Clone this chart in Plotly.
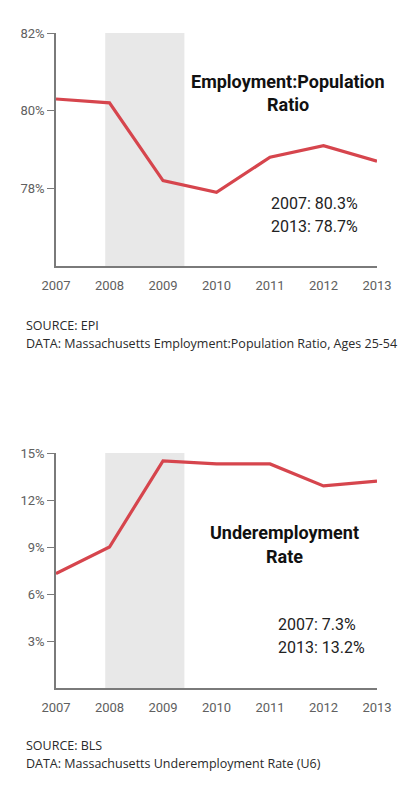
import plotly.graph_objects as go

# data
years = [2007, 2008, 2009, 2010, 2011, 2012, 2013]
emp_pop_ratio = [80.3, 80.2, 78.2, 77.9, 78.8, 79.1, 78.7]
underemployment = [7.3, 9.0, 14.5, 14.3, 14.3, 12.9, 13.2]
emp_ticks = [78, 80, 82]
emp_labels = ['78%', '80%', '82%']
under_ticks = [3, 6, 9, 12, 15]
under_labels = ['3%', '6%', '9%', '12%', '15%']
recession = [2007.92, 2009.4]

red = '#d6454d'
axis_grey = '#7a7a7a'
label_grey = '#606060'
font = 'Roboto'
body_font = 'Open Sans'

# page body has an 8px margin, so the figure is sized to fit inside it
W, H, OFF = 408, 780, 8

def px(x):
    return (x - OFF) / W

def py(y):
    return 1 - (y - OFF) / H

fig = go.Figure()
fig.add_trace(go.Scatter(x=years, y=emp_pop_ratio, mode='lines',
                         line=dict(color=red, width=3.2), xaxis='x', yaxis='y'))
fig.add_trace(go.Scatter(x=years, y=underemployment, mode='lines',
                         line=dict(color=red, width=3.2), xaxis='x2', yaxis='y2'))

# recession shading
for xr, yr in (('x', 'y domain'), ('x2', 'y2 domain')):
    fig.add_shape(type='rect', x0=recession[0], x1=recession[1], xref=xr, yref=yr,
                  y0=0, y1=1, fillcolor='#e8e8e8', line_width=0, layer='below')

xaxis_style = dict(range=[2007, 2013], tickvals=years, showgrid=False, zeroline=False,
                   showline=True, linecolor=axis_grey, linewidth=1.5, ticks='',
                   ticklabelstandoff=7,
                   tickfont=dict(family=font, size=13, color=label_grey),
                   domain=[px(56), px(377)], fixedrange=True, automargin=False)
yaxis_style = dict(showgrid=False, zeroline=False, showline=True, linecolor=axis_grey,
                   linewidth=1.5, ticks='outside', ticklen=7, tickcolor=axis_grey,
                   tickwidth=1.2,
                   tickfont=dict(family=font, size=13, color=label_grey),
                   fixedrange=True, automargin=False)

fig.update_layout(
    width=W, height=H,
    margin=dict(l=0, r=0, t=0, b=0, autoexpand=False),
    paper_bgcolor='white', plot_bgcolor='white',
    showlegend=False,
    xaxis=dict(xaxis_style, anchor='y'),
    yaxis=dict(yaxis_style, range=[76, 82], tickvals=emp_ticks, ticktext=emp_labels,
               domain=[py(266), py(33)], anchor='x'),
    xaxis2=dict(xaxis_style, anchor='y2'),
    yaxis2=dict(yaxis_style, range=[0, 15], tickvals=under_ticks, ticktext=under_labels,
                domain=[py(688), py(453)], anchor='x2'),
)

def txt(x, y, s, size, bold=False, anchor='center'):
    fig.add_annotation(x=px(x), y=py(y), xref='paper', yref='paper', text=s,
                       showarrow=False, xanchor=anchor, yanchor='middle',
                       font=dict(family=font, size=size, color='#111' if bold else '#222',
                                 weight='bold' if bold else 'normal'))

# titles and notes
txt(288, 81, 'Employment:Population', 18, bold=True)
txt(288, 104, 'Ratio', 18, bold=True)
txt(269, 203, '2007: 80.3%', 16, anchor='left')
txt(269, 226, '2013: 78.7%', 16, anchor='left')

txt(284, 532, 'Underemployment', 18, bold=True)
txt(284, 556, 'Rate', 18, bold=True)
txt(276, 624, '2007: 7.3%', 16, anchor='left')
txt(276, 647, '2013: 13.2%', 16, anchor='left')

# sources
def src(y, s):
    fig.add_annotation(x=px(24), y=py(y), xref='paper', yref='paper', text=s,
                       showarrow=False, xanchor='left', yanchor='middle',
                       font=dict(family=body_font, size=12.5, color='#2a2a2a'))

src(325, 'SOURCE: EPI')
src(343, 'DATA: Massachusetts Employment:Population Ratio, Ages 25-54')
src(745, 'SOURCE: BLS')
src(763, 'DATA: Massachusetts Underemployment Rate (U6)')

fig.write_html('out.html')
